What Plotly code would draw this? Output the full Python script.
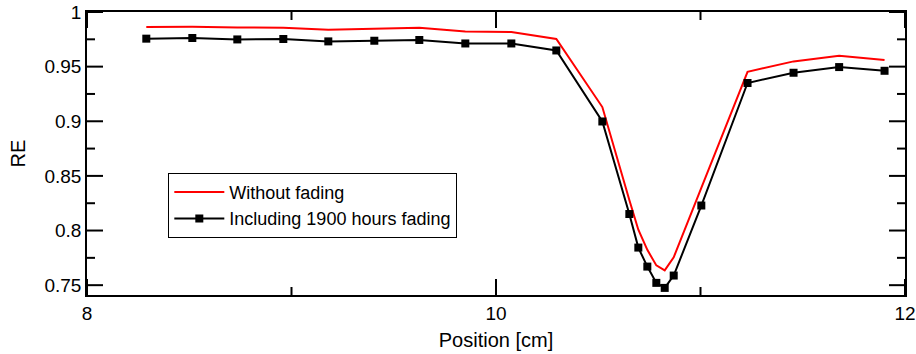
import plotly.graph_objects as go

# Position along the scan [cm]
position = [8.29, 8.515, 8.735, 8.96, 9.18, 9.405, 9.625, 9.85, 10.075, 10.295,
            10.52, 10.652, 10.696, 10.74, 10.784, 10.825, 10.869, 11.004,
            11.23, 11.455, 11.678, 11.90]

# Relative efficiency without fading
re_no_fading = [0.9863, 0.9865, 0.9859, 0.9856, 0.9838, 0.9847, 0.9856, 0.9822,
                0.9817, 0.9753, 0.9130, 0.8280, 0.8007, 0.7823, 0.7681, 0.7636,
                0.7755, 0.8390, 0.9453, 0.9548, 0.9600, 0.9560]

# Relative efficiency including 1900 hours of fading
re_fading = [0.9756, 0.9762, 0.9749, 0.9753, 0.9731, 0.9737, 0.9744, 0.9712,
             0.9712, 0.9648, 0.8998, 0.8151, 0.7844, 0.7670, 0.7521, 0.7475,
             0.7588, 0.8229, 0.9350, 0.9444, 0.9496, 0.9462]

x_range = [8, 12]
y_range = [0.741, 1.0]

# tick positions (major ones are labelled, minor ones are short)
x_major = [8, 10, 12]
x_minor = [9, 11]
y_major = [0.75, 0.8, 0.85, 0.9, 0.95, 1]
y_minor = [0.775, 0.825, 0.875, 0.925, 0.975]
y_labels = ["0.75", "0.8", "0.85", "0.9", "0.95", "1"]

MAJOR_LEN = 16
MINOR_LEN = 8

font_family = "Liberation Sans, Arial, sans-serif"

fig = go.Figure()
fig.add_trace(go.Scatter(
    x=position, y=re_no_fading, mode="lines", name="Without fading",
    line=dict(color="#ff0000", width=2),
))
fig.add_trace(go.Scatter(
    x=position, y=re_fading, mode="lines+markers",
    name="Including 1900 hours fading",
    line=dict(color="#000000", width=2),
    marker=dict(symbol="square", size=8, color="#000000"),
))

# inward ticks on all four sides, drawn as pixel-length lines
tick_line = dict(color="#000000", width=2)
shapes = []
for vals, length in ((x_major, MAJOR_LEN), (x_minor, MINOR_LEN)):
    for v in vals:
        shapes.append(dict(type="line", xref="x", yref="paper", ysizemode="pixel",
                           yanchor=0, x0=v, x1=v, y0=0, y1=length,
                           line=tick_line, layer="above"))
        shapes.append(dict(type="line", xref="x", yref="paper", ysizemode="pixel",
                           yanchor=1, x0=v, x1=v, y0=0, y1=-length,
                           line=tick_line, layer="above"))
for vals, length in ((y_major, MAJOR_LEN), (y_minor, MINOR_LEN)):
    for v in vals:
        shapes.append(dict(type="line", yref="y", xref="paper", xsizemode="pixel",
                           xanchor=0, y0=v, y1=v, x0=0, x1=length,
                           line=tick_line, layer="above"))
        shapes.append(dict(type="line", yref="y", xref="paper", xsizemode="pixel",
                           xanchor=1, y0=v, y1=v, x0=0, x1=-length,
                           line=tick_line, layer="above"))

axis_common = dict(
    showgrid=False, zeroline=False, showline=True, linecolor="black",
    linewidth=1.5, mirror=True, ticks="", automargin=False,
)

fig.update_layout(
    width=916, height=354,
    margin=dict(l=87, r=11, t=12, b=59),
    plot_bgcolor="white", paper_bgcolor="white",
    font=dict(family=font_family, size=18, color="black"),
    showlegend=True,
    shapes=shapes,
    xaxis=dict(
        range=x_range, tickmode="array", tickvals=x_major,
        ticktext=[str(v) for v in x_major],
        tickfont=dict(family=font_family, size=19, color="black"),
        title=dict(text="Position [cm]",
                   font=dict(family=font_family, size=20, color="black"), standoff=10),
        **axis_common,
    ),
    yaxis=dict(
        range=y_range, tickmode="array", tickvals=y_major, ticktext=y_labels,
        tickfont=dict(family=font_family, size=19, color="black"),
        title=dict(text="RE",
                   font=dict(family=font_family, size=20, color="black"), standoff=13),
        **axis_common,
    ),
    legend=dict(
        x=0.0994, y=0.4316, xanchor="left", yanchor="top",
        bgcolor="white", bordercolor="black", borderwidth=1,
        font=dict(family=font_family, size=18, color="black"),
        tracegroupgap=0, itemwidth=50,
    ),
)

fig.write_html("out.html")
